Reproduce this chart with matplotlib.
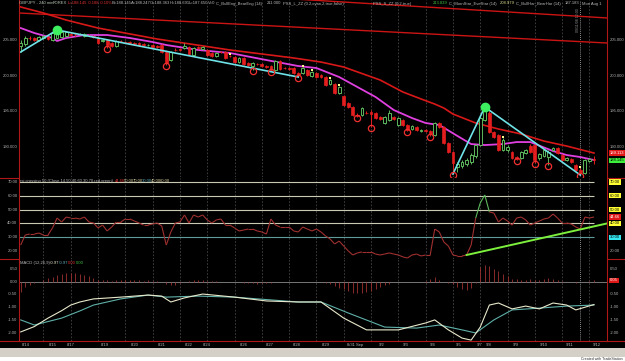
import numpy as np
import matplotlib
matplotlib.use("Agg")
import matplotlib.pyplot as plt
from matplotlib.transforms import blended_transform_factory
from matplotlib.collections import LineCollection
from matplotlib.patches import Rectangle

plt.rcParams['font.family'] = ['Liberation Sans Narrow', 'Liberation Sans', 'DejaVu Sans']

# ---- price bars (GBPJPY 240 min) ----
opens = [204.16, 204.44, 205.28, 205.28, 205.00, 205.28, 205.42, 205.00, 205.28, 205.42,
         205.56, 205.84, 205.84, 205.84, 205.56, 205.70, 205.56, 205.28, 204.86, 205.00,
         204.58, 204.16, 204.86, 204.72, 204.72, 204.58, 204.58, 204.44, 204.30, 204.30,
         204.16, 204.30, 203.32, 202.19, 203.60, 203.74, 203.88, 204.02, 202.90, 204.02,
         203.74, 203.60, 203.18, 202.76, 203.32, 203.32, 202.76, 202.62, 201.91, 202.48,
         201.77, 201.35, 201.63, 201.63, 201.35, 201.35, 200.79, 202.05, 201.07, 201.07,
         201.07, 200.37, 200.37, 200.79, 199.95, 200.37, 200.09, 199.81, 198.83, 198.83,
         197.57, 197.15, 196.16, 195.60, 194.48, 194.48, 194.76, 194.90, 194.76, 194.20,
         193.36, 193.78, 194.20, 193.08, 193.78, 193.08, 192.52, 192.80, 192.24, 192.38,
         192.24, 191.68, 193.36, 192.80, 190.55, 189.29, 187.19, 187.33, 187.61, 187.89,
         188.73, 190.27, 193.78, 194.76, 192.10, 191.68, 189.57, 189.57, 189.29, 188.59,
         188.45, 189.15, 190.13, 190.27, 188.45, 188.73, 188.59, 189.57, 189.85, 188.87,
         188.17, 188.31, 187.47, 186.77, 186.35, 188.03, 188.363]
closes = [204.58, 205.28, 205.25, 205.00, 205.42, 205.56, 205.14, 205.98, 206.12, 206.12,
          206.12, 205.70, 205.82, 205.86, 205.84, 205.68, 205.42, 204.58, 205.00, 204.30,
          204.16, 204.86, 204.84, 204.70, 204.58, 204.44, 204.30, 204.30, 204.32, 204.02,
          204.02, 203.32, 201.77, 203.32, 203.58, 203.60, 204.16, 203.04, 203.88, 203.88,
          204.02, 202.90, 202.76, 203.18, 203.30, 202.48, 202.74, 201.91, 202.48, 201.63,
          201.49, 201.77, 201.61, 201.35, 201.21, 200.79, 202.05, 200.93, 201.05, 200.93,
          200.37, 200.09, 201.07, 200.09, 200.51, 199.81, 199.81, 198.69, 199.39, 197.57,
          198.41, 195.88, 195.60, 194.48, 194.34, 195.46, 194.74, 194.62, 194.06, 193.92,
          194.20, 194.76, 193.92, 194.06, 193.08, 192.38, 192.94, 192.38, 192.38, 192.24,
          191.82, 193.36, 192.80, 190.55, 189.29, 187.75, 187.61, 187.89, 188.17, 188.87,
          190.27, 194.06, 195.18, 192.10, 191.40, 189.57, 190.97, 189.99, 188.45, 188.31,
          189.29, 189.57, 189.29, 188.17, 189.01, 189.57, 189.29, 189.85, 189.15, 188.17,
          188.45, 187.89, 186.77, 186.49, 188.17, 188.31, 188.145]
highs = [205.00, 205.56, 205.56, 205.42, 205.56, 205.70, 205.56, 206.12, 206.40, 206.26,
         206.26, 205.98, 205.98, 205.98, 205.98, 205.84, 205.70, 205.42, 205.14, 205.14,
         204.72, 205.00, 205.00, 204.86, 204.86, 204.72, 204.72, 204.58, 204.44, 204.44,
         204.30, 204.44, 203.46, 203.46, 203.88, 203.88, 204.58, 204.16, 204.02, 204.16,
         204.16, 203.74, 203.32, 203.32, 203.46, 203.46, 202.90, 202.76, 202.62, 202.62,
         201.91, 201.91, 201.77, 201.77, 201.49, 201.49, 202.19, 202.19, 201.21, 201.21,
         201.21, 200.51, 201.21, 200.93, 200.65, 200.51, 200.23, 199.95, 199.53, 198.97,
         198.55, 197.29, 196.30, 195.74, 194.76, 195.60, 195.04, 195.18, 194.90, 194.34,
         194.34, 195.18, 194.34, 194.20, 193.92, 193.22, 193.08, 192.94, 192.52, 192.52,
         192.38, 193.50, 193.50, 192.94, 190.69, 189.43, 187.89, 188.17, 188.45, 189.15,
         190.41, 194.34, 195.60, 195.04, 192.24, 191.82, 191.26, 190.27, 189.43, 188.73,
         189.43, 189.71, 190.41, 190.41, 189.15, 189.71, 189.57, 189.99, 189.99, 189.01,
         188.59, 188.45, 187.61, 187.05, 188.31, 188.45, 188.691]
lows = [203.32, 204.16, 205.00, 204.86, 204.86, 205.14, 205.00, 204.86, 205.14, 205.28,
        205.42, 205.56, 205.56, 205.70, 205.42, 205.56, 205.28, 204.44, 204.72, 203.88,
        204.02, 204.02, 204.72, 204.58, 204.44, 204.30, 204.16, 204.16, 204.16, 203.88,
        203.88, 203.18, 201.49, 202.05, 203.46, 203.46, 203.74, 202.90, 202.76, 203.74,
        203.60, 202.76, 202.62, 202.62, 203.18, 202.34, 202.62, 201.77, 201.77, 201.49,
        201.35, 200.79, 201.49, 201.21, 201.07, 200.65, 200.65, 200.79, 200.93, 200.79,
        200.23, 199.81, 200.23, 199.95, 199.81, 199.67, 199.67, 198.55, 198.69, 197.43,
        197.43, 195.74, 195.46, 194.34, 194.20, 194.34, 194.62, 192.80, 193.92, 193.78,
        193.22, 193.64, 193.78, 192.94, 192.94, 192.24, 192.38, 192.24, 192.10, 192.10,
        191.54, 191.54, 192.66, 190.41, 189.15, 186.21, 186.49, 187.05, 187.33, 187.61,
        188.45, 190.13, 193.64, 191.96, 191.26, 189.43, 189.43, 189.29, 188.31, 188.17,
        188.31, 189.01, 189.15, 187.75, 188.17, 188.59, 187.47, 189.43, 189.01, 188.03,
        188.03, 187.75, 186.63, 186.07, 186.21, 187.89, 187.650]

# pattern markers
circle_bars = [19, 32, 51, 55, 61, 74, 77, 85, 90, 95, 109, 113, 116, 123]
yellow_bars = [46, 62, 64, 68, 70, 106, 123]
pivot_bars = [8, 102]
zigzag_1 = [0, 8, 61]
zigzag_2 = [95, 102, 123]

# moving averages
ma_fast_idx = [0, 3, 7, 8, 10, 14, 19, 24, 29, 32, 39, 46, 54, 61, 65, 70, 74, 78, 82, 86,
               89, 92, 96, 99, 102, 106, 109, 112, 117, 120, 123, 126]
ma_fast = [206.68, 205.98, 205.28, 204.86, 205.28, 205.70, 205.70, 205.28, 204.72, 204.30,
           203.60, 203.18, 202.19, 201.35, 201.07, 199.81, 198.41, 197.01, 195.18, 194.06,
           193.36, 193.08, 191.54, 190.41, 190.27, 190.41, 190.69, 190.69, 189.43, 188.87,
           188.59, 188.17]
ma_slow_idx = [0, 5, 10, 17, 30, 46, 60, 66, 71, 79, 84, 88, 91, 93, 95, 100, 105, 110,
               115, 120, 126]
ma_slow = [209.63, 208.79, 207.80, 206.68, 205.14, 203.60, 202.48, 201.91, 201.21, 199.39,
           197.71, 196.73, 196.02, 195.46, 194.62, 193.36, 192.52, 191.82, 190.83, 190.13,
           189.15]
long_a_idx = [-0.4, 128.9]
long_a = [208.79, 204.58]
long_c_idx = [60, 128.9]
long_c = [210.75, 208.09]

# RSI
rsi = [24.3, 31.6, 32.3, 32.3, 33.0, 31.6, 31.6, 36.7, 43.9, 41.0,
       44.6, 43.9, 43.9, 43.2, 44.6, 41.0, 40.3, 36.7, 38.8, 34.5,
       37.4, 41.0, 41.0, 43.2, 43.2, 41.7, 40.3, 38.8, 38.8, 39.6,
       40.3, 38.1, 24.3, 33.8, 40.3, 41.0, 46.1, 40.3, 46.1, 44.6,
       46.1, 42.5, 40.3, 42.5, 43.2, 38.8, 38.8, 36.7, 34.5, 35.2,
       35.9, 35.9, 34.5, 33.8, 32.3, 43.2, 38.8, 37.4, 37.4, 37.4,
       34.5, 33.8, 37.4, 35.9, 34.5, 35.9, 33.8, 30.9, 28.7, 25.1,
       27.2, 23.6, 20.0, 17.1, 18.6, 19.3, 19.3, 19.3, 17.8, 17.1,
       17.8, 18.6, 17.8, 17.1, 15.7, 14.9, 17.1, 17.8, 16.4, 17.1,
       17.1, 35.9, 33.8, 26.5, 23.6, 17.1, 16.4, 16.4, 17.1, 24.3,
       43.9, 54.8, 60.6, 48.3, 47.5, 41.0, 43.9, 41.7, 38.8, 43.9,
       44.6, 42.5, 38.8, 40.3, 41.7, 43.2, 43.9, 46.8, 43.9, 40.3,
       40.3, 39.6, 37.4, 35.9, 44.6, 43.9, 44.66]
rsi_levels = [70, 60, 50, 40]
rsi_trend_idx = [98, 128.9]
rsi_trend = [17.1, 40.0]

# MACD
macd_idx = [0, 3, 6, 9, 11, 13, 16, 22, 28, 31, 33, 36, 40, 47, 54, 61, 66, 71, 76, 83,
            89, 91, 94, 97, 99, 101, 103, 105, 108, 111, 114, 117, 120, 122, 126]
macd = [-1.97, -1.76, -1.43, -1.14, -0.92, -0.80, -0.68, -0.61, -0.53, -0.57, -0.80, -0.64,
        -0.49, -0.61, -0.76, -0.80, -0.80, -1.43, -1.89, -1.89, -1.62, -1.50, -1.89, -2.21,
        -2.29, -1.78, -0.92, -0.84, -1.07, -0.96, -1.07, -0.84, -0.92, -1.11, -0.90]
signal_idx = [0, 3, 9, 13, 16, 22, 28, 32, 39, 47, 58, 61, 66, 72, 80, 87, 92, 97, 100,
              104, 108, 114, 120, 126]
signal = [-1.50, -1.70, -1.43, -1.15, -0.92, -0.68, -0.53, -0.61, -0.57, -0.61, -0.76,
          -0.80, -0.80, -1.23, -1.78, -1.82, -1.70, -1.89, -2.01, -1.50, -1.11, -1.04,
          -0.96, -0.92]
hist = [-0.40, -0.20, -0.14, -0.05, 0.00, 0.04, 0.12, 0.19, 0.25, 0.29,
        0.32, 0.33, 0.33, 0.30, 0.26, 0.20, 0.13, 0.07, 0.05, 0.04,
        0.03, 0.04, 0.05, 0.06, 0.05, 0.06, 0.05, 0.03, 0.04, 0.03,
        0.02, -0.03, -0.10, -0.14, -0.12, -0.05, 0.00, 0.02, 0.05, 0.06,
        0.05, 0.03, 0.02, 0.01, 0.00, 0.00, 0.00, -0.01, -0.02, -0.05,
        -0.07, -0.06, -0.08, -0.06, -0.07, -0.04, -0.01, 0.00, 0.00, 0.00,
        0.00, 0.00, 0.00, 0.00, 0.00, 0.00, -0.02, -0.05, -0.10, -0.18,
        -0.25, -0.30, -0.38, -0.43, -0.45, -0.45, -0.42, -0.38, -0.30, -0.22,
        -0.15, -0.08, -0.03, 0.00, 0.00, 0.00, 0.00, 0.00, 0.00, 0.02,
        0.10, 0.18, 0.06, 0.00, -0.05, -0.10, -0.20, -0.30, -0.33, -0.25,
        -0.05, 0.55, 0.64, 0.60, 0.50, 0.42, 0.30, 0.20, 0.10, 0.08,
        0.05, 0.06, 0.09, 0.05, 0.04, 0.08, 0.12, 0.10, 0.04, 0.02,
        0.00, -0.03, -0.05, -0.02, 0.00, 0.03, 0.05]

# axis labels
date_labels = ['8/14', '8/15', '8/17', '8/19', '8/20', '8/21', '8/22', '8/24', '8/26', '8/27',
               '8/28', '8/29', '8/31 Sep', '9/2', '9/3', '9/4', '9/5', '9/7', '9/8', '9/9',
               '9/10', '9/11', '9/12']
date_pos = [1.2, 7.0, 10.9, 18.5, 25.1, 30.9, 36.9, 40.8, 49.0, 54.8, 60.6, 67.0, 73.5,
            79.3, 84.6, 90.5, 96.3, 100.8, 102.9, 108.7, 115.0, 120.7, 126.5]
price_ticks = [205, 200, 195, 190]
rsi_ticks = [70, 60, 50, 40, 30, 20]
macd_ticks = [0.5, 0.0, -0.5, -1.0, -1.5, -2.0]

# ---- figure ----
W, H = 625, 361
fig = plt.figure(figsize=(W / 100, H / 100), dpi=100, facecolor='black')
XL, XR = 19, 607
LEFT_I, RIGHT_I = -0.37, 128.86


def panel(top, bottom, ylim):
    ax = fig.add_axes([XL / W, (H - bottom) / H, (XR - XL) / W, (bottom - top) / H])
    ax.set_facecolor('black')
    ax.set_xlim(LEFT_I, RIGHT_I)
    ax.set_ylim(*ylim)
    for s in ax.spines.values():
        s.set_visible(False)
    ax.set_xticks([])
    ax.set_yticks([])
    for g in range(5, 127, 6):
        ax.axvline(g, color='#464646', lw=0.6, ls=(0, (2, 2)), zorder=0)
    ax.axvline(123, color='#bdbdbd', lw=0.6, ls=(0, (1, 1.5)), zorder=1)
    return ax


ax_p = panel(0, 177, (185.79, 210.61))
ax_r = panel(178, 259, (14.2, 72.9))
ax_m = panel(259, 341, (-2.324, 0.879))

GREEN = '#5cb85c'
RED = '#e41e1e'

# candles
idx = np.arange(len(closes))
o = np.array(opens)
c = np.array(closes)
h = np.array(highs)
l = np.array(lows)
up = c >= o
body_lo = np.minimum(o, c)
body_h = np.maximum(np.abs(c - o), 0.04)
ax_p.vlines(idx[up], l[up], h[up], color=GREEN, lw=0.7, zorder=3)
ax_p.vlines(idx[~up], l[~up], h[~up], color=RED, lw=0.7, zorder=3)
ax_p.bar(idx[up], body_h[up], bottom=body_lo[up], width=0.62, facecolor='black',
         edgecolor=GREEN, lw=0.7, zorder=4)
ax_p.bar(idx[~up], body_h[~up], bottom=body_lo[~up], width=0.62, facecolor=RED,
         edgecolor=RED, lw=0.5, zorder=4)

# moving averages / long lines
ax_p.plot(long_a_idx, long_a, color='#cc1414', lw=1.0, zorder=2)
ax_p.plot(long_c_idx, long_c, color='#cc1414', lw=1.0, zorder=2)
ax_p.plot(ma_slow_idx, ma_slow, color='#d81818', lw=1.2, zorder=2)
ax_p.plot(ma_fast_idx, ma_fast, color='#e040e0', lw=1.3, zorder=2)

# zigzags
for zz in (zigzag_1, zigzag_2):
    vals = [l[zz[0]], h[zz[1]], l[zz[2]]]
    ax_p.plot(zz, vals, color='#6fe3e8', lw=1.2, zorder=5)
ax_p.plot(pivot_bars, h[pivot_bars], 'o', ms=6, color='#3df060', zorder=6)
ax_p.plot(circle_bars, l[circle_bars] - 0.1, 'o', ms=4.5, mfc='none', mec='#f03030',
          mew=0.9, zorder=6)
ax_p.plot(yellow_bars, h[yellow_bars] + 0.15, 's', ms=1.8, color='#ffff90', mew=0, zorder=6)

# RSI
r = np.array(rsi)
pts = np.column_stack([idx, r])
segs = np.stack([pts[:-1], pts[1:]], axis=1)
cols = ['#5cb85c' if max(a, b) > 50 else '#a03030' for a, b in zip(r[:-1], r[1:])]
ax_r.add_collection(LineCollection(segs, colors=cols, lw=0.8, zorder=3))
ax_r.hlines(rsi_levels, LEFT_I, 126, color='#c9c9b4', lw=0.8, zorder=2)
ax_r.hlines([30], LEFT_I, 126, color='#5f9c98', lw=0.8, zorder=2)
ax_r.plot(rsi_trend_idx, rsi_trend, color='#7cf03c', lw=1.4, zorder=4)

# MACD
ax_m.axhline(0, color='#8a8a8a', lw=0.6, zorder=1)
ax_m.vlines(idx, 0, hist, color='#a03030', lw=0.6, zorder=2)
ax_m.plot(signal_idx, signal, color='#5fb0a8', lw=0.8, zorder=3)
ax_m.plot(macd_idx, macd, color='#e8e8cc', lw=0.8, zorder=3)

# borders
red_line = '#b01818'
fig.add_artist(plt.Line2D([XL / W, XL / W], [1, 1 - 341 / H], color=red_line, lw=0.8))
fig.add_artist(plt.Line2D([XR / W, XR / W], [1, 1 - 341 / H], color=red_line, lw=0.8))
fig.add_artist(plt.Line2D([0, 1], [1 - 341 / H] * 2, color=red_line, lw=0.8))
for yy in (177.5, 258.5):
    fig.add_artist(plt.Line2D([0, XL / W], [1 - yy / H] * 2, color=red_line, lw=0.8))
    fig.add_artist(plt.Line2D([XR / W, 1], [1 - yy / H] * 2, color=red_line, lw=0.8))

FS = 3.0
LBL = '#b4b4b4'


def side_labels(ax, ticks, fmt, right=True):
    tl = blended_transform_factory(fig.transFigure, ax.transData)
    for t in ticks:
        ax.text(17.5 / W, t, fmt.format(t), transform=tl, ha='right', va='center',
                fontsize=FS, color=LBL, clip_on=False)
        if right:
            ax.text(610 / W, t, fmt.format(t), transform=tl, ha='left', va='center',
                    fontsize=FS, color=LBL, clip_on=False)


side_labels(ax_p, price_ticks, '{:.3f}')
side_labels(ax_m, macd_ticks, '{:.2f}')
side_labels(ax_r, rsi_ticks, '{:.2f}', right=False)
tl_r = blended_transform_factory(fig.transFigure, ax_r.transData)


def box(ax, y, s, fc, tc='black'):
    tr = blended_transform_factory(fig.transFigure, ax.transData)
    ax.text(610 / W, y, s, transform=tr, ha='left', va='center', fontsize=FS, color=tc,
            clip_on=False, bbox=dict(boxstyle='square,pad=0.15', fc=fc, ec='none'))


box(ax_p, ma_slow[-1], '189.113', '#e01818', 'white')
box(ax_p, closes[-1], '188.145', '#3cf03c')
for lv in rsi_levels:
    box(ax_r, lv, '{:.2f}'.format(lv), '#ffff33')
box(ax_r, rsi[-1], '{:.2f}'.format(rsi[-1]), '#e01818', 'white')
box(ax_r, 30, '30.00', '#33e6f0')
ax_r.text(610 / W, 20, '20.00', transform=tl_r, ha='left', va='center', fontsize=FS,
          color=LBL, clip_on=False)
box(ax_m, hist[-1], '{:.2f}'.format(hist[-1]), '#e01818', 'white')

# date labels
tr_dates = blended_transform_factory(ax_m.transData, fig.transFigure)
for s, p in zip(date_labels, date_pos):
    ax_m.text(p, 1 - 345 / H, s, transform=tr_dates, ha='center', va='center', fontsize=FS,
              color=LBL, clip_on=False)


# header texts
def ptxt(x, y, s, color, **kw):
    fig.text(x / W, 1 - y / H, s, fontsize=FS, color=color, va='center', ha='left', **kw)


title = [(19, 'GBPJPY - 240 min', '#b8c8b8'), (53, 'FOREX', '#b8c8b8'),
         (68, 'L=188.145', '#e03030'), (88, '-0.188', '#e03030'), (100, '-0.10%', '#e03030'),
         (112, 'B=188.145', '#b8b8b8'), (131, 'A=188.247', '#b8b8b8'),
         (150, 'O=188.363', '#b8b8b8'), (169.5, 'H=188.691', '#b8b8b8'),
         (189, 'L=187.650', '#b8b8b8'), (208, 'V=0', '#b8b8b8'),
         (216, 'C_BullEng_BearEng (14)', '#b8b8b8'),
         (267, '211.000', '#b8b8b8'),
         (283, 'PSS_L_ZZ (0.2,cyan,2,true,false)', '#b8b8b8'),
         (373, 'PSS_S_ZZ (0.2,true)', '#b8b8b8'),
         (433, '213.839', '#40c040'),
         (449, 'C_MornStar_EveStar (14)', '#b8b8b8'),
         (500, '208.979', '#e0e090'),
         (516, 'C_BullHar_BearHar (14)', '#b8b8b8'),
         (565, '187.183', '#b8b8b8'),
         (582, 'Mon Aug 1', '#b8b8b8')]
for x, s, col in title:
    ptxt(x, 3.5, s, col)

rsi_head = [(20, 'rsi crossing 50 (Close,14,50,40,60,30,70,red,green)', '#b8b8b8'),
            (115, '44.66', '#e03030'), (124, '50.00', '#d8d0a0'), (133, '70.00', '#d8d0a0'),
            (142, '30.00', '#5fb0c0'), (151, '40.00', '#d8d0a0'), (160, '60.00', '#d8d0a0')]
for x, s, col in rsi_head:
    ptxt(x, 181, s, col)

macd_head = [(20, 'MACD (12,26,9)', '#b8b8b8'), (50, '-0.97', '#e8e8cc'),
             (59, '-0.97', '#5fb0c0'), (68, '0.00', '#e03030'), (76, '0.00', '#40c040')]
for x, s, col in macd_head:
    ptxt(x, 263, s, col)

fig.text(578 / W, 1 - 20 / H, '09/11/08 12:00', rotation=90, fontsize=2.6, color='#909090',
         ha='center', va='center')

# bottom strip
fig.add_artist(Rectangle((0, 0), 1, 13 / H, transform=fig.transFigure, fc='#d4d0c8',
                         ec='none'))
fig.add_artist(Rectangle((0, 0), 1, 4 / H, transform=fig.transFigure, fc='white',
                         ec='none'))
fig.text(623 / W, 1 - 359 / H, 'Created with TradeStation', fontsize=2.6, color='#303030',
         ha='right', va='center')

fig.savefig('out.png', dpi=100, facecolor='black')
